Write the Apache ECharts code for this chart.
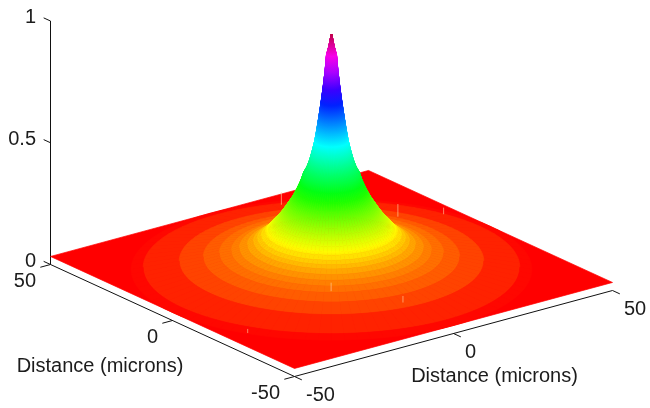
<!DOCTYPE html>
<html><head><meta charset="utf-8">
<style>html,body{margin:0;padding:0;background:#fff}#c{width:650px;height:408px}</style>
<script src="https://cdn.jsdelivr.net/npm/echarts@6/dist/echarts.min.js"></script>
</head><body><div id="c"></div>
<script>
// radial profile: radius (microns) -> height
const radii = [0,.3,.6,.9,1.25,1.6,2.1,2.6,3.3,3.7,4.2,4.8,5.5,6.2,7,7.8,8.75,9.8,11,12,13,14,15,16,16.5,17.5,18.5,19.5,21,23,25,28,32,38,47,50];
const heights = [1,.98,.955,.935,.915,.85,.78,.72,.645,.605,.56,.52,.48,.45,.427,.39,.357,.325,.296,.272,.25,.232,.215,.197,.187,.172,.16,.148,.134,.122,.11,.101,.085,.068,.042,.033];
const floorHeight = .033;
const floorHalf = 50;
const bandedBelowRadius = 16.5;
// small pale artefacts on the surface
const spikeX = [18,32,46,-17,-4,-44];
const spikeY = [44,14.5,14,-22,-34.5,-23];
const spikeBase = [.033,.07,.033,.105,.07,.033];
const spikeTop = [.085,.122,.06,.14,.097,.05];
// colormap
const colorLevels = [0,.172,.355,.545,.735,.9,1];
const colorValues = [[255,0,0],[255,255,0],[0,255,0],[0,255,255],[0,0,255],[255,0,255],[190,0,70]];
// ticks
const xyTicks = [-50,0,50];
const zTicks = [0,.5,1];
const xyTickLabels = ['-50','0','50'];
const zTickLabels = ['0','0.5','1'];
const axisTitle = 'Distance (microns)';

const U=[3.18,-.86], V=[-2.44,-1.12], C=[331.5,277.5], Z=243.5;
function proj(x,y,z){return [C[0]+x*U[0]+y*V[0], C[1]+x*U[1]+y*V[1]-z*Z];}
function ramp(q){
  q=Math.max(0,Math.min(1,q));
  let i=0; while(i<colorLevels.length-2&&q>colorLevels[i+1])i++;
  const t=(q-colorLevels[i])/(colorLevels[i+1]-colorLevels[i]);
  const a=colorValues[i],b=colorValues[i+1];
  return 'rgb('+a.map((v,k)=>Math.round(v+(b[k]-v)*t)).join(',')+')';
}
const norm=z=>(z-floorHeight)/(1-floorHeight);

// facets of the surface of revolution, painted back to front
const SECT=96, facets=[];
const fl=Math.hypot(U[1],V[1]), dir=[U[1]/fl,V[1]/fl];
for(let i=0;i<radii.length-1;i++){
  for(let s=0;s<SECT;s++){
    const a0=s/SECT*2*Math.PI,a1=(s+1)/SECT*2*Math.PI,am=(a0+a1)/2,rm=(radii[i]+radii[i+1])/2;
    const key=rm*(Math.cos(am)*dir[0]+Math.sin(am)*dir[1]);
    facets.push([radii[i],radii[i+1],heights[i],heights[i+1],a0,a1,key]);
  }
}
facets.sort((p,q)=>p[6]-q[6]);

function poly(api,pts,col){
  return {type:'polygon',shape:{points:pts.map(p=>api.coord(p))},style:{fill:col,stroke:col,lineWidth:.7},silent:true};
}
function seg(api,a,b,col,w){
  const p=api.coord(a),q=api.coord(b);
  return {type:'line',shape:{x1:p[0],y1:p[1],x2:q[0],y2:q[1]},style:{stroke:col,lineWidth:w},silent:true};
}
const FONT='20px "Liberation Sans", Arial, sans-serif';
function txt(api,p,t,align){
  const c=api.coord(p);
  return {type:'text',style:{x:c[0],y:c[1],text:t,font:FONT,fill:'#1c1c1c',align:align,verticalAlign:'middle'},silent:true};
}

const n=floorHalf;
const segs=[
  [proj(-n,n,0),proj(-n,-n,0)],
  [proj(-n,-n,0),proj(n,-n,0)],
  [proj(-n,n,0),proj(-n,n,1)]
];
xyTicks.forEach(t=>{
  segs.push([proj(t,-n,0),proj(t,-n-3,0)]);
  segs.push([proj(-n,t,0),proj(-n-3.2,t,0)]);
});
zTicks.forEach(t=>segs.push([proj(-n,n,t),proj(-n,n+2.8,t)]));

const labels=[];
zTicks.forEach((t,i)=>{const p=proj(-n,n,t);labels.push([[p[0]-14.5,p[1]-3.5],zTickLabels[i],'right']);});
xyTicks.forEach((t,i)=>{const p=proj(-n,t,0);labels.push([[p[0]-14.5,p[1]+17],xyTickLabels[i],'right']);});
xyTicks.forEach((t,i)=>{const p=proj(t,-n,0);labels.push([[p[0]+11.5,p[1]+18.5],xyTickLabels[i],'left']);});
labels.push([[100,366.5],axisTitle,'center']);
labels.push([[494.5,376.5],axisTitle,'center']);

const chart=echarts.init(document.getElementById('c'),null,{renderer:'canvas'});
const hiddenAxis=(max,inv)=>({type:'value',min:0,max:max,inverse:inv,show:false});
chart.setOption({
  animation:false,backgroundColor:'#fff',
  grid:{left:0,right:0,top:0,bottom:0},
  xAxis:hiddenAxis(650,false),yAxis:hiddenAxis(408,true),
  series:[
    {type:'custom',coordinateSystem:'cartesian2d',silent:true,z:1,data:segs.map((s,i)=>[i]),
     renderItem:(p,api)=>{const s=segs[p.dataIndex];return seg(api,s[0],s[1],'#111',1);}},
    {type:'custom',coordinateSystem:'cartesian2d',silent:true,z:2,data:[[0]],
     renderItem:(p,api)=>poly(api,[proj(-n,-n,floorHeight),proj(n,-n,floorHeight),proj(n,n,floorHeight),proj(-n,n,floorHeight)],ramp(0))},
    {type:'custom',coordinateSystem:'cartesian2d',silent:true,z:3,progressive:0,data:facets.map(f=>f.slice(0,6)),
     renderItem:(p,api)=>{
       const f=facets[p.dataIndex];
       const pt=(r,z,a)=>proj(r*Math.cos(a),r*Math.sin(a),z);
       const pts=[pt(f[0],f[2],f[4]),pt(f[1],f[3],f[4]),pt(f[1],f[3],f[5]),pt(f[0],f[2],f[5])];
       if(f[0]>=bandedBelowRadius) return poly(api,pts,ramp(norm((f[2]+f[3])/2)));
       const am=(f[4]+f[5])/2;
       const a=api.coord(pt(f[0],f[2],am)),b=api.coord(pt(f[1],f[3],am));
       const grad=new echarts.graphic.LinearGradient(a[0],a[1],b[0],b[1],[
         {offset:0,color:ramp(norm(f[2]))},{offset:1,color:ramp(norm(f[3]))}],true);
       return poly(api,pts,grad);
     }},
    {type:'custom',coordinateSystem:'cartesian2d',silent:true,z:4,data:spikeX.map((x,i)=>[x,spikeY[i],spikeBase[i],spikeTop[i]]),
     renderItem:(p,api)=>{
       const i=p.dataIndex;
       return seg(api,proj(spikeX[i],spikeY[i],spikeBase[i]),proj(spikeX[i],spikeY[i],spikeTop[i]),'rgba(255,215,170,.6)',1);
     }},
    {type:'custom',coordinateSystem:'cartesian2d',silent:true,z:5,data:labels.map((l,i)=>[i]),
     renderItem:(p,api)=>{const l=labels[p.dataIndex];return txt(api,l[0],l[1],l[2]);}}
  ]
});
</script></body></html>
